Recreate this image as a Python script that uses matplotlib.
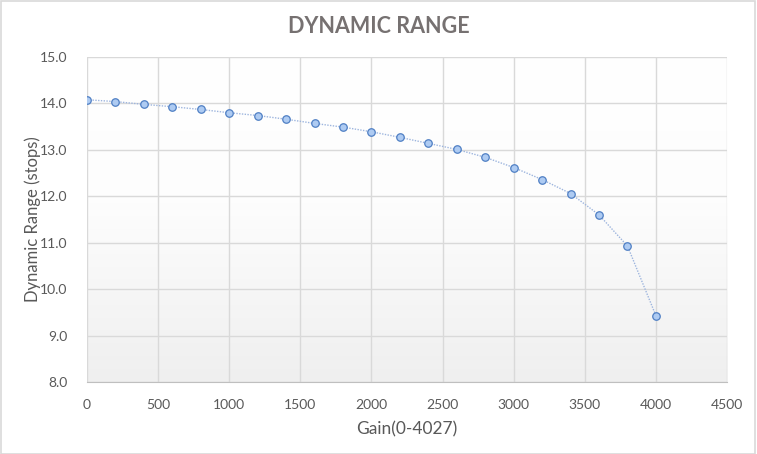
import matplotlib
matplotlib.use("Agg")
import matplotlib.pyplot as plt
import numpy as np
from matplotlib.colors import LinearSegmentedColormap

gain = [0, 200, 400, 600, 800, 1000, 1200, 1400, 1600, 1800, 2000,
        2200, 2400, 2600, 2800, 3000, 3200, 3400, 3600, 3800, 4000]
dyn_range = [14.08, 14.04, 13.98, 13.93, 13.87, 13.80, 13.74, 13.66, 13.57, 13.49, 13.39,
             13.27, 13.14, 13.01, 12.84, 12.62, 12.36, 12.06, 11.60, 10.93, 9.43]
x_ticks = [0, 500, 1000, 1500, 2000, 2500, 3000, 3500, 4000, 4500]
y_ticks = [8.0, 9.0, 10.0, 11.0, 12.0, 13.0, 14.0, 15.0]

plt.rcParams['font.family'] = ['Lato', 'DejaVu Sans']

fig = plt.figure(figsize=(7.57, 4.54), dpi=100)
fig.patch.set_facecolor("white")
fig.add_artist(plt.Rectangle((0.001, 0.001), 0.997, 0.997, transform=fig.transFigure,
                             fill=False, edgecolor="#d9d9d9", lw=1.2))

ax = fig.add_axes([0.1149, 0.1586, 0.8455, 0.7158])
ax.set_xlim(0, 4500)
ax.set_ylim(8, 15)

grad = np.linspace(0, 1, 256).reshape(-1, 1)
cmap = LinearSegmentedColormap.from_list("g", [(0, "#efefef"), (0.55, "#fdfdfd"), (1, "#ffffff")])
ax.imshow(grad, extent=[0, 4500, 8, 15], origin="lower", aspect="auto", cmap=cmap, zorder=0)

ax.set_xticks(x_ticks)
ax.set_yticks(y_ticks)
ax.set_yticklabels([f"{v:.1f}" for v in y_ticks])
ax.set_xticklabels([str(v) for v in x_ticks])
ax.grid(True, color="#d9d9d9", lw=1.0, zorder=1)
ax.set_axisbelow(True)
for s in ["top", "right", "left"]:
    ax.spines[s].set_visible(False)
ax.spines["bottom"].set_color("#bfbfbf")
ax.tick_params(length=0, colors="#595959", labelsize=10, pad=12)
ax.tick_params(axis="y", pad=14)

ax.plot(gain, dyn_range, linestyle=(0, (1, 1)), color="#9db5de", lw=1.0, zorder=3)
ax.plot(gain, dyn_range, linestyle="none", marker="o", ms=5.4, mfc="#aecbf2",
        mec="#4f7fc4", mew=0.9, zorder=4)

ax.set_xlabel("Gain(0-4027)", fontsize=12.5, color="#595959", labelpad=8)
ax.set_ylabel("Dynamic Range (stops)", fontsize=12, color="#595959", labelpad=-1)
fig.text(0.5, 0.942, "DYNAMIC RANGE", ha="center", va="center", fontsize=15.5,
         fontweight="bold", color="#767171")

fig.savefig("out.png", dpi=100)
